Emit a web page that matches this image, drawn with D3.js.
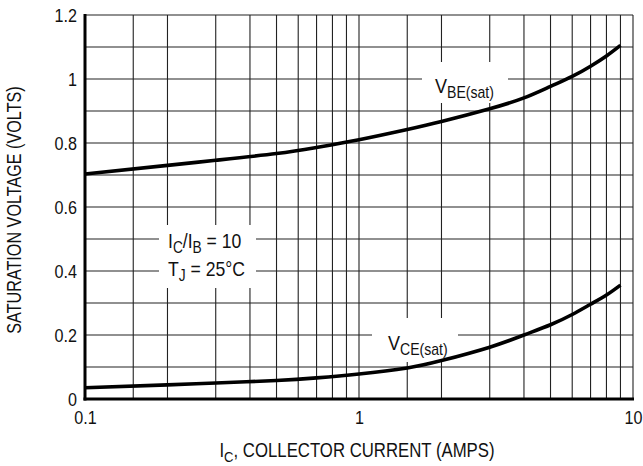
<!DOCTYPE html>
<html>
<head>
<meta charset="utf-8">
<script src="https://cdn.jsdelivr.net/npm/d3@7"></script>
<style>
  body { margin: 0; background: #fff; }
  svg text { font-family: "Liberation Sans", Arial, sans-serif; fill: #111; }
</style>
</head>
<body>
<div id="chart"></div>
<script>
// collector current (A) and saturation voltages
let currents = [0.1, 0.2, 0.3, 0.5, 0.7, 1, 1.5, 2, 3, 4, 5, 6, 7, 8, 9];
let vbeSat   = [0.703, 0.730, 0.746, 0.767, 0.786, 0.81, 0.842, 0.867, 0.907, 0.941, 0.977, 1.008, 1.040, 1.072, 1.105];
let vceSat   = [0.035, 0.044, 0.05, 0.058, 0.066, 0.078, 0.097, 0.12, 0.162, 0.2, 0.232, 0.264, 0.296, 0.325, 0.356];

let xTicks = [0.1, 1, 10];
let xGrid  = [0.15, 0.2, 0.3, 0.4, 0.5, 0.6, 0.7, 0.8, 0.9, 1, 1.5, 2, 3, 4, 5, 6, 7, 8, 9, 10];
let yTicks = [0, 0.2, 0.4, 0.6, 0.8, 1, 1.2];
let yGrid  = [0.1, 0.2, 0.3, 0.4, 0.5, 0.6, 0.7, 0.8, 0.9, 1, 1.1, 1.2];

let width = 643, height = 466;
let margin = {top: 15, right: 10, bottom: 67, left: 85};
let squeeze = 0.85;   // the datasheet uses a condensed face

var svg = d3.select("#chart")
    .append("svg")
    .attr("width", width)
    .attr("height", height);

var x = d3.scaleLog().domain([0.1, 10]).range([margin.left, 633]);
var y = d3.scaleLinear().domain([0, 1.2]).range([height - margin.bottom, margin.top]);

// grid
svg.append("g").selectAll("line")
    .data(xGrid)
    .enter().append("line")
    .attr("x1", d => x(d)).attr("x2", d => x(d))
    .attr("y1", y(0)).attr("y2", y(1.2))
    .attr("stroke", "#222").attr("stroke-width", 1.1);

svg.append("g").selectAll("line")
    .data(yGrid)
    .enter().append("line")
    .attr("x1", x(0.1)).attr("x2", x(10))
    .attr("y1", d => y(d)).attr("y2", d => y(d))
    .attr("stroke", "#222").attr("stroke-width", 1.1);

// white patches behind the labels inside the grid
let patches = [
    {x0: 422, x1: 508, y0: 62, y1: 103},
    {x0: 372, x1: 458, y0: 318, y1: 362},
    {x0: 159, x1: 256, y0: 225, y1: 288}
];
svg.append("g").selectAll("rect")
    .data(patches)
    .enter().append("rect")
    .attr("x", d => d.x0).attr("y", d => d.y0)
    .attr("width", d => d.x1 - d.x0).attr("height", d => d.y1 - d.y0)
    .attr("fill", "#fff");

// axes
svg.append("line")
    .attr("x1", x(0.1)).attr("x2", x(0.1))
    .attr("y1", y(1.2) - 1).attr("y2", y(0) + 1.5)
    .attr("stroke", "#000").attr("stroke-width", 3);
svg.append("line")
    .attr("x1", x(0.1) - 1.5).attr("x2", x(10) + 1)
    .attr("y1", y(0)).attr("y2", y(0))
    .attr("stroke", "#000").attr("stroke-width", 3);

svg.append("g")
    .attr("transform", `translate(${x(0.1) - 8},0)`)
    .call(d3.axisLeft(y).tickValues(yTicks).tickSize(0).tickPadding(0).tickFormat(d => String(d)))
    .call(g => g.select(".domain").remove())
    .selectAll("text")
    .style("font-size", "19px")
    .attr("dy", "0.36em")
    .attr("transform", `scale(${squeeze},1)`);

svg.append("g")
    .attr("transform", `translate(0,${y(0) + 12})`)
    .call(d3.axisBottom(x).tickValues(xTicks).tickSize(0).tickPadding(0).tickFormat(d => String(d)))
    .call(g => g.select(".domain").remove())
    .selectAll("text")
    .style("font-size", "19px")
    .attr("dy", "0.7em")
    .attr("transform", `scale(${squeeze},1)`);

// curves
let line = d3.line()
    .x(d => x(d[0]))
    .y(d => y(d[1]))
    .curve(d3.curveNatural);

svg.append("path")
    .datum(currents.map((c, i) => [c, vbeSat[i]]))
    .attr("d", line)
    .attr("fill", "none").attr("stroke", "#000").attr("stroke-width", 3.6);

svg.append("path")
    .datum(currents.map((c, i) => [c, vceSat[i]]))
    .attr("d", line)
    .attr("fill", "none").attr("stroke", "#000").attr("stroke-width", 3.6);

// labels with subscripts, condensed horizontally
function subLabel(xPos, yPos, parts, anchor, size, sx) {
    let t = svg.append("text")
        .attr("transform", `translate(${xPos},${yPos}) scale(${sx || squeeze},1)`)
        .attr("text-anchor", anchor || "start")
        .style("font-size", (size || 20) + "px");
    parts.forEach(p => {
        let s = t.append("tspan").text(p[0]);
        if (p[1] == "sub") s.attr("dy", 5).style("font-size", ((size || 20) * 0.78) + "px");
        else if (p[1] == "up") s.attr("dy", -5);
    });
    return t;
}

subLabel(435, 93, [["V"], ["BE(sat)", "sub"]], "start", 20.5, 0.88);
subLabel(388, 350, [["V"], ["CE(sat)", "sub"]], "start", 20.5, 0.88);
subLabel(168, 248, [["I"], ["C", "sub"], ["/I", "up"], ["B", "sub"], [" = 10", "up"]], "start", 20, 0.88);
subLabel(168, 276, [["T"], ["J", "sub"], [" = 25°C", "up"]], "start", 20, 0.88);

// axis titles
subLabel(357, 457, [["I"], ["C", "sub"], [", COLLECTOR CURRENT (AMPS)", "up"]], "middle", 19.5, 0.86);

svg.append("text")
    .attr("transform", `translate(21,210) rotate(-90) scale(0.83,1)`)
    .attr("text-anchor", "middle")
    .style("font-size", "19.5px")
    .text("SATURATION VOLTAGE (VOLTS)");
</script>
</body>
</html>
